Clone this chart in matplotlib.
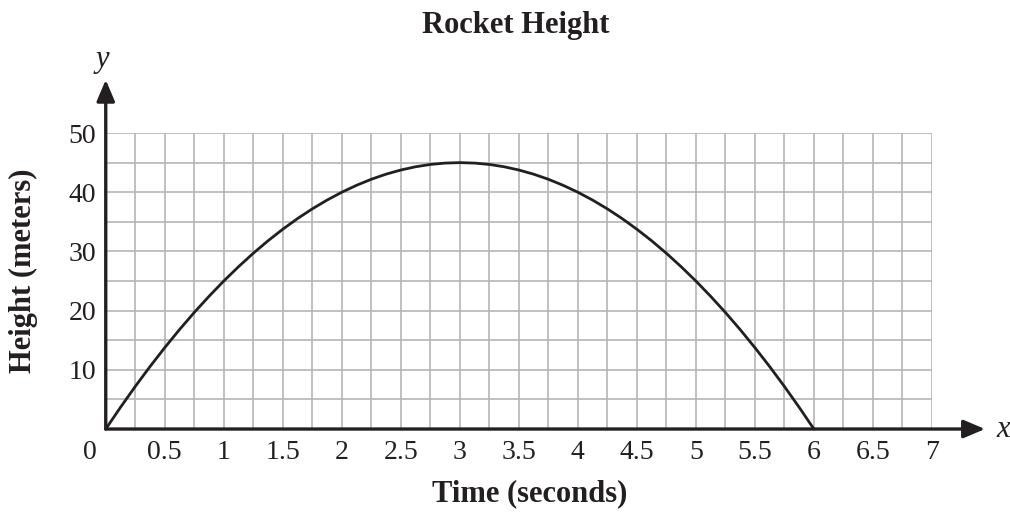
import matplotlib.pyplot as plt
from matplotlib.ticker import MultipleLocator

# values
time_s = [0, 0.125, 0.25, 0.375, 0.5, 0.625, 0.75, 0.875, 1, 1.125, 1.25, 1.375,
          1.5, 1.625, 1.75, 1.875, 2, 2.125, 2.25, 2.375, 2.5, 2.625, 2.75, 2.875,
          3, 3.125, 3.25, 3.375, 3.5, 3.625, 3.75, 3.875, 4, 4.125, 4.25, 4.375,
          4.5, 4.625, 4.75, 4.875, 5, 5.125, 5.25, 5.375, 5.5, 5.625, 5.75, 5.875, 6]
height_m = [0, 3.67, 7.19, 10.55, 13.75, 16.8, 19.69, 22.42, 25, 27.42, 29.69, 31.8,
            33.75, 35.55, 37.19, 38.67, 40, 41.17, 42.19, 43.05, 43.75, 44.3, 44.69, 44.92,
            45, 44.92, 44.69, 44.3, 43.75, 43.05, 42.19, 41.17, 40, 38.67, 37.19, 35.55,
            33.75, 31.8, 29.69, 27.42, 25, 22.42, 19.69, 16.8, 13.75, 10.55, 7.19, 3.67, 0]
x_ticks = [0.5, 1, 1.5, 2, 2.5, 3, 3.5, 4, 4.5, 5, 5.5, 6, 6.5, 7]
x_tick_labels = ["0.5", "1", "1.5", "2", "2.5", "3", "3.5", "4", "4.5", "5", "5.5", "6", "6.5", "7"]
y_ticks = [10, 20, 30, 40, 50]

plt.rcParams["font.family"] = ["Liberation Serif", "DejaVu Serif"]

ink = "#231f20"
fig = plt.figure(figsize=(10.1, 5.13), dpi=100)
ax = fig.add_axes([0.1047, 0.1637, 0.818, 0.577])

ax.set_xlim(0, 7)
ax.set_ylim(0, 50)

ax.xaxis.set_minor_locator(MultipleLocator(0.25))
ax.yaxis.set_minor_locator(MultipleLocator(5))
ax.grid(True, which="both", color="#b5b5b5", linewidth=1.2)
ax.set_axisbelow(True)

for side in ["top", "right", "left", "bottom"]:
    ax.spines[side].set_visible(False)

ax.set_xticks(x_ticks)
ax.set_xticklabels(x_tick_labels, fontsize=20, color=ink)
ax.set_yticks(y_ticks)
ax.set_yticklabels([str(v) for v in y_ticks], fontsize=20, color=ink)
ax.tick_params(axis="x", which="both", length=0, pad=8)
ax.tick_params(axis="y", which="both", length=0, pad=7)

# origin label sits to the left of the corner, on the same baseline as the others
ax.annotate("0", xy=(0, 0), xytext=(-11.5, -8), textcoords="offset points",
            ha="center", va="top", fontsize=20, color=ink)

# axes with arrow heads
arrow = dict(arrowstyle="-|>,head_length=1.3,head_width=0.55",
             color=ink, lw=2.4, shrinkA=0, shrinkB=0)
ax.annotate("", xy=(7.45, 0), xytext=(0, 0), arrowprops=arrow,
            annotation_clip=False)
ax.annotate("", xy=(0, 59.0), xytext=(0, 0), arrowprops=arrow,
            annotation_clip=False)
ax.text(7.6, 0, "x", style="italic", fontsize=22, ha="center", va="center",
        color=ink, clip_on=False)
ax.text(-0.03, 62.5, "y", style="italic", fontsize=22, ha="center", va="center",
        color=ink, clip_on=False)

ax.plot(time_s, height_m, color=ink, linewidth=2.0, clip_on=False,
        solid_capstyle="round", solid_joinstyle="round")

fig.text(0.511, 0.951, "Rocket Height", fontsize=22, fontweight="bold",
         ha="center", va="center", color=ink)
fig.text(0.524, 0.037, "Time (seconds)", fontsize=22, fontweight="bold",
         ha="center", va="center", color=ink)
fig.text(0.023, 0.472, "Height (meters)", fontsize=22, fontweight="bold",
         ha="center", va="center", rotation=90, color=ink)

fig.savefig("out.png", dpi=100)
